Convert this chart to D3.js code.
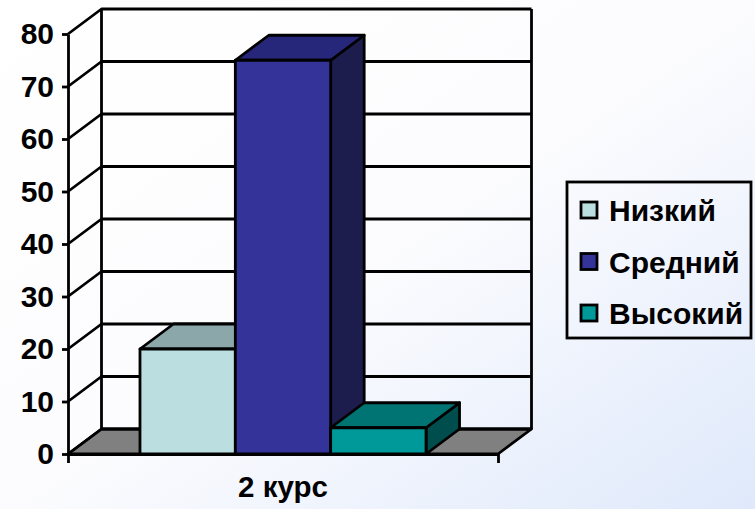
<!DOCTYPE html>
<html>
<head>
<meta charset="utf-8">
<script src="https://cdn.jsdelivr.net/npm/d3@7"></script>
<style>
  html, body { margin: 0; padding: 0; background: #fff; overflow: hidden; }
  text { font-family: "Liberation Sans", Arial, sans-serif; fill: #000; }
</style>
</head>
<body>
<script>
"use strict";
var category = "2 курс";
var seriesNames = ["Низкий", "Средний", "Высокий"];
var seriesValues = [20, 75, 5];
var tickLabels = [0, 10, 20, 30, 40, 50, 60, 70, 80];
var frontColors = ["#BBDFE1", "#333399", "#009999"];
var topColors = ["#8CA7A9", "#26267A", "#007373"];
var sideColors = ["#5E7071", "#1C1C4D", "#004D4D"];

var width = 755, height = 509;
// how far the back wall sits from the front plane
var depthX = 33.5, depthY = -25;

var svg = d3.select("body").append("svg")
  .attr("width", width)
  .attr("height", height)
  .style("display", "block");

var defs = svg.append("defs");
var grad = defs.append("linearGradient")
  .attr("id", "bg")
  .attr("x1", "0%").attr("y1", "0%")
  .attr("x2", "100%").attr("y2", "100%");
grad.append("stop").attr("offset", "0%").attr("stop-color", "#ffffff");
grad.append("stop").attr("offset", "50%").attr("stop-color", "#fcfcfe");
grad.append("stop").attr("offset", "100%").attr("stop-color", "#dfe9fb");

svg.append("rect")
  .attr("width", width)
  .attr("height", height)
  .attr("fill", "url(#bg)");

var y = d3.scaleLinear().domain([0, 80]).range([454, 34]);
var xAxisScale = d3.scaleBand().domain([category]).range([68, 498]);
var x = d3.scaleBand().domain(seriesNames).range([68, 498]).paddingInner(0).paddingOuter(0.755);

var line = d3.line();
var walls = svg.append("g").attr("stroke", "#000").attr("stroke-width", 2.8).attr("stroke-linejoin", "round");

// floor
walls.append("path")
  .attr("d", line([
    [x.range()[0], y(0)],
    [x.range()[0] + depthX, y(0) + depthY],
    [x.range()[1] + depthX, y(0) + depthY],
    [x.range()[1], y(0)]
  ]) + "Z")
  .attr("fill", "#808080");

// back wall gridlines and the diagonals on the side wall
tickLabels.forEach(function(t) {
  walls.append("path")
    .attr("fill", "none")
    .attr("d", line([
      [x.range()[0], y(t)],
      [x.range()[0] + depthX, y(t) + depthY],
      [x.range()[1] + depthX, y(t) + depthY]
    ]));
});

walls.append("path")
  .attr("fill", "none")
  .attr("d", line([
    [x.range()[0] + depthX, y(0) + depthY],
    [x.range()[0] + depthX, y(80) + depthY]
  ]));
walls.append("path")
  .attr("fill", "none")
  .attr("d", line([
    [x.range()[1] + depthX, y(0) + depthY],
    [x.range()[1] + depthX, y(80) + depthY]
  ]));

// bars, left to right so each one covers the side of the one before
var bars = svg.append("g")
  .selectAll("g")
  .data(seriesNames)
  .enter().append("g")
  .attr("stroke", "#000")
  .attr("stroke-width", 2.8)
  .attr("stroke-linejoin", "round");

bars.append("path")
  .attr("fill", function(d, i) { return sideColors[i]; })
  .attr("d", function(d, i) {
    var r = x(d) + x.bandwidth();
    return line([
      [r, y(0)],
      [r, y(seriesValues[i])],
      [r + depthX, y(seriesValues[i]) + depthY],
      [r + depthX, y(0) + depthY]
    ]) + "Z";
  });
bars.append("path")
  .attr("fill", function(d, i) { return topColors[i]; })
  .attr("d", function(d, i) {
    var l = x(d), r = l + x.bandwidth(), t = y(seriesValues[i]);
    return line([
      [l, t],
      [l + depthX, t + depthY],
      [r + depthX, t + depthY],
      [r, t]
    ]) + "Z";
  });
bars.append("rect")
  .attr("fill", function(d, i) { return frontColors[i]; })
  .attr("x", function(d) { return x(d); })
  .attr("y", function(d, i) { return y(seriesValues[i]); })
  .attr("width", x.bandwidth())
  .attr("height", function(d, i) { return y(0) - y(seriesValues[i]); });

// axes
var yAxis = svg.append("g")
  .attr("transform", "translate(68,0)")
  .call(d3.axisLeft(y).tickValues(tickLabels).tickSize(6).tickSizeOuter(0).tickPadding(8));
yAxis.selectAll("path,line").attr("stroke", "#000").attr("stroke-width", 2.8);
yAxis.selectAll("text")
  .style("font-size", "30px")
  .style("font-weight", "bold")
  .style("font-family", "'Liberation Sans', Arial, sans-serif");

var xAxis = svg.append("g")
  .attr("transform", "translate(0,454)")
  .call(d3.axisBottom(xAxisScale).tickSizeInner(0).tickSizeOuter(9).tickPadding(22));
xAxis.select("path").attr("stroke", "#000").attr("stroke-width", 2.8);
xAxis.selectAll(".tick line").remove();
xAxis.selectAll("text")
  .style("font-size", "29.5px")
  .style("font-weight", "bold")
  .style("font-family", "'Liberation Sans', Arial, sans-serif");

// legend
var legend = svg.append("g");
legend.append("rect")
  .attr("x", 567).attr("y", 182)
  .attr("width", 184).attr("height", 156)
  .attr("fill", "none")
  .attr("stroke", "#000")
  .attr("stroke-width", 2.8);

var legendY = d3.scalePoint().domain(seriesNames).range([210, 313]);
seriesNames.forEach(function(name, i) {
  legend.append("rect")
    .attr("x", 581).attr("y", legendY(name) - 8)
    .attr("width", 16).attr("height", 16)
    .attr("fill", frontColors[i])
    .attr("stroke", "#000")
    .attr("stroke-width", 2.8);
  legend.append("text")
    .attr("x", 609).attr("y", legendY(name) + 11)
    .style("font-size", "30px")
    .style("font-weight", "bold")
    .text(name);
});
</script>
</body>
</html>
